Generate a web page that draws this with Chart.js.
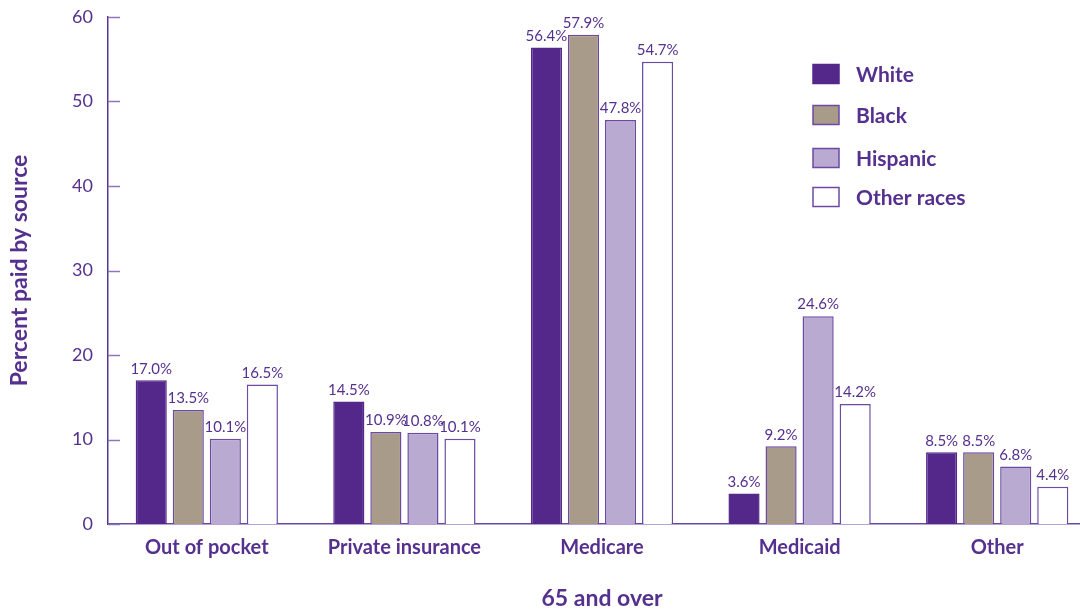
<!DOCTYPE html>
<html>
<head>
<meta charset="utf-8">
<script src="https://cdn.jsdelivr.net/npm/chart.js@4/dist/chart.umd.min.js"></script>
<style>
  html, body { margin: 0; padding: 0; background: #fff; overflow: hidden; }
  #wrap { width: 1100px; height: 612px; }
</style>
</head>
<body>
<div id="wrap"><canvas id="chart" width="1100" height="612"></canvas></div>
<script>
const categories = ["Out of pocket", "Private insurance", "Medicare", "Medicaid", "Other"];
const seriesNames = ["White", "Black", "Hispanic", "Other races"];
const white = [17.0, 14.5, 56.4, 3.6, 8.5];
const black = [13.5, 10.9, 57.9, 9.2, 8.5];
const hispanic = [10.1, 10.8, 47.8, 24.6, 6.8];
const otherRaces = [16.5, 10.1, 54.7, 14.2, 4.4];
const yTicks = [0, 10, 20, 30, 40, 50, 60];

const PURPLE = "#54278a";
const TEXT = "#55308e";
const EDGE = "#6c4aa4";
const FONT = "Lato, 'Open Sans', sans-serif";

// value labels above each bar
const valueLabels = {
  id: "valueLabels",
  afterDatasetsDraw(chart) {
    const ctx = chart.ctx;
    ctx.save();
    ctx.font = "15px " + FONT;
    ctx.fillStyle = TEXT;
    ctx.textAlign = "center";
    ctx.textBaseline = "bottom";
    chart.data.datasets.forEach((ds, i) => {
      chart.getDatasetMeta(i).data.forEach((bar, j) => {
        ctx.fillText(ds.data[j].toFixed(1) + "%", bar.x, bar.y - 4);
      });
    });
    ctx.restore();
  }
};

// short tick marks pointing into the plot
const innerTicks = {
  id: "innerTicks",
  afterDraw(chart) {
    const ctx = chart.ctx;
    const y = chart.scales.y;
    ctx.save();
    ctx.strokeStyle = "#8d74bb";
    ctx.lineWidth = 1.5;
    yTicks.forEach(v => {
      const py = Math.round(y.getPixelForValue(v)) + 0.5;
      ctx.beginPath();
      ctx.moveTo(y.right, py);
      ctx.lineTo(y.right + 12, py);
      ctx.stroke();
    });
    ctx.restore();
  }
};

// legend box in the upper right
const boxLegend = {
  id: "boxLegend",
  afterDraw(chart) {
    const ctx = chart.ctx;
    const rows = [74, 115, 158, 197];
    ctx.save();
    ctx.font = "bold 21px " + FONT;
    ctx.textBaseline = "middle";
    chart.data.datasets.forEach((ds, i) => {
      const cy = rows[i];
      ctx.fillStyle = ds.backgroundColor;
      ctx.fillRect(813, cy - 9.5, 26, 19);
      ctx.strokeStyle = ds.borderColor;
      ctx.lineWidth = 1.5;
      ctx.strokeRect(813, cy - 9.5, 26, 19);
      ctx.fillStyle = TEXT;
      ctx.fillText(ds.label, 856, cy + 1);
    });
    ctx.restore();
  }
};

new Chart(document.getElementById("chart"), {
  type: "bar",
  data: {
    labels: categories,
    datasets: [
      { label: seriesNames[0], data: white, backgroundColor: PURPLE, borderColor: PURPLE },
      { label: seriesNames[1], data: black, backgroundColor: "#a89b89", borderColor: EDGE },
      { label: seriesNames[2], data: hispanic, backgroundColor: "#b9aad1", borderColor: EDGE },
      { label: seriesNames[3], data: otherRaces, backgroundColor: "#ffffff", borderColor: EDGE }
    ].map(d => Object.assign(d, {
      borderWidth: 1.5,
      barPercentage: 0.84,
      categoryPercentage: 0.75
    }))
  },
  options: {
    responsive: false,
    animation: false,
    devicePixelRatio: 1,
    layout: { padding: { top: 17, right: 4, bottom: 0, left: 0 } },
    plugins: {
      legend: { display: false },
      tooltip: { enabled: false }
    },
    scales: {
      x: {
        grid: { display: false, drawTicks: false },
        border: { color: "#6a48a2", width: 1.5 },
        ticks: { color: TEXT, font: { family: FONT, size: 20, weight: "bold" }, padding: 12 },
        title: {
          display: true,
          text: "65 and over",
          color: TEXT,
          font: { family: FONT, size: 23, weight: "bold" },
          padding: { top: 0, bottom: 0 }
        },
        afterFit(scale) { scale.height = 88; }
      },
      y: {
        min: 0,
        max: 60,
        afterBuildTicks(scale) { scale.ticks = yTicks.map(v => ({ value: v })); },
        grid: { display: false, drawTicks: false },
        border: { color: "#5a3594", width: 1.5 },
        ticks: { color: TEXT, font: { family: FONT, size: 18 }, padding: 15 },
        title: {
          display: true,
          text: "Percent paid by source",
          color: TEXT,
          font: { family: FONT, size: 23, weight: "bold" },
          padding: { top: 6, bottom: 0 }
        },
        afterFit(scale) {
          scale.width = 108;
          scale.paddingTop = 0;
          scale.paddingBottom = 0;
        }
      }
    }
  },
  plugins: [valueLabels, innerTicks, boxLegend]
});
</script>
</body>
</html>
